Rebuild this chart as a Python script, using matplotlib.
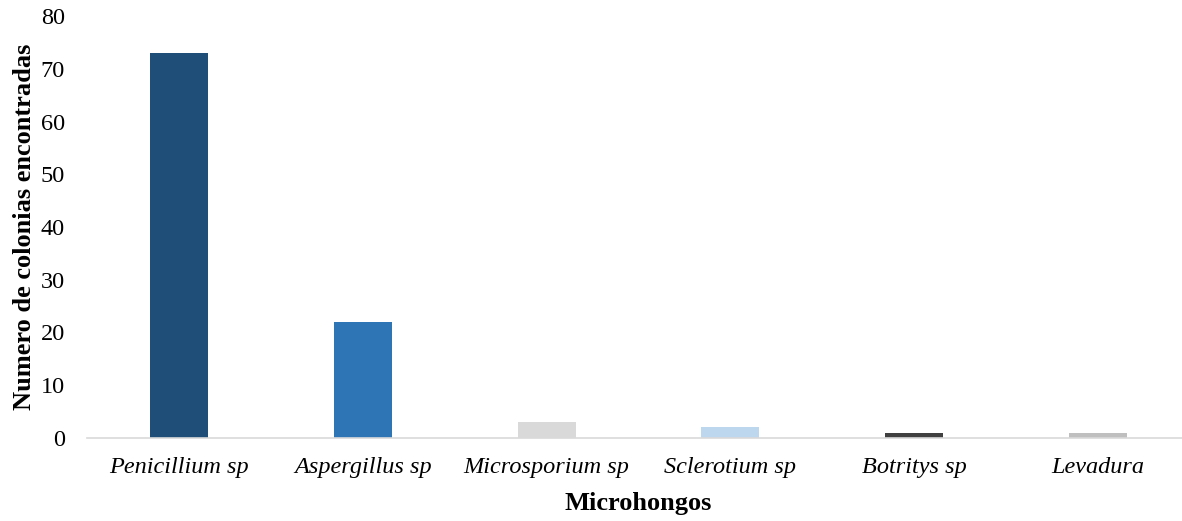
import matplotlib
matplotlib.use("Agg")
import matplotlib.pyplot as plt

categories = ["Penicillium sp", "Aspergillus sp", "Microsporium sp", "Sclerotium sp", "Botritys sp", "Levadura"]
values = [73, 22, 3, 2, 1, 1]
colors = ["#1F4E79", "#2E75B6", "#D9D9D9", "#BDD7EE", "#404040", "#BFBFBF"]
yticks = [0, 10, 20, 30, 40, 50, 60, 70, 80]

plt.rcParams['font.family'] = ['Liberation Serif', 'DejaVu Serif']

fig = plt.figure(figsize=(11.82, 5.21), dpi=100)
ax = fig.add_axes([87/1182, 1-438/521, 1103/1182, (438-16)/521])
x = range(len(categories))
ax.bar(x, values, width=0.316, color=colors, zorder=2)
ax.set_xlim(-0.5, len(categories)-0.5)
ax.set_ylim(0, 80)
ax.set_yticks(yticks)
ax.set_yticklabels([str(v) for v in yticks], fontsize=17.5)
ax.set_xticks(list(x))
ax.set_xticklabels(categories, fontsize=17.5, style='italic')
ax.tick_params(axis='both', length=0)
ax.tick_params(axis='y', pad=16)
ax.tick_params(axis='x', pad=14)
for s in ['top', 'right', 'left']:
    ax.spines[s].set_visible(False)
ax.spines['bottom'].set_color('#D9D9D9')
ax.spines['bottom'].set_linewidth(1.2)
ax.set_xlabel("Microhongos", fontsize=19, fontweight='bold', labelpad=10)
ax.set_ylabel("Numero de colonias encontradas", fontsize=19, fontweight='bold', labelpad=3.5)
fig.savefig("out.png", dpi=100)
